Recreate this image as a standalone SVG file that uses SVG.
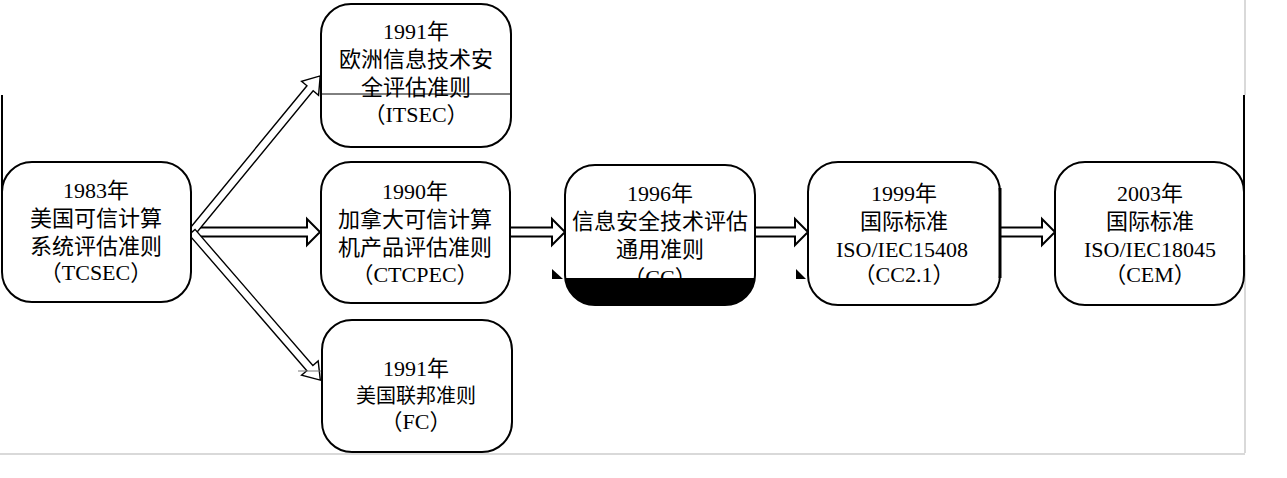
<svg xmlns="http://www.w3.org/2000/svg" width="1287" height="478" viewBox="0 0 1287 478">
<style>
.box{fill:#fff;stroke:#000;stroke-width:2}
.t{font-family:"Liberation Serif","Noto Sans CJK SC",serif;font-size:22px;fill:#000;text-anchor:middle}
.ha{fill:#fff;stroke:#000;stroke-width:2;stroke-linejoin:miter}
.da{fill:#fff;stroke:#000;stroke-width:1.4}
</style>
<defs>
<clipPath id="ccclip"><rect x="565" y="165" width="190" height="140" rx="30"/></clipPath>
</defs>
<rect width="1287" height="478" fill="#fff"/>
<g id="frame">
<line x1="2" y1="95" x2="2" y2="232" stroke="#000" stroke-width="2"/>
<line x1="1245" y1="0" x2="1245" y2="95" stroke="#ccc" stroke-width="1.5"/>
<line x1="1244" y1="95" x2="1244" y2="255" stroke="#000" stroke-width="2"/>
<line x1="1245" y1="255" x2="1245" y2="453" stroke="#ccc" stroke-width="1.5"/>
<line x1="0" y1="454" x2="1245" y2="454" stroke="#ccc" stroke-width="1.5"/>
</g>
<g id="connectors">
<path class="ha" d="M192,227.5 H307 V219 L320,232 L307,245 V236.5 H192"/>
<path class="ha" d="M510,227.5 H552 V219 L565,232 L552,245 V236.5 H510"/>
<path class="ha" d="M755,227.5 H795 V219 L808,232 L795,245 V236.5 H755"/>
<path class="ha" d="M1000,227.5 H1042 V219 L1055,232 L1042,245 V236.5 H1000"/>
<path class="da" transform="translate(192,232) rotate(-50.6)" d="M0,-4 H186 V-11 L202,0 L186,11 V4 H0 Z"/>
<path class="da" transform="translate(192,232) rotate(49.1)" d="M0,-4 H180 V-11 L196,0 L180,11 V4 H0 Z"/>
<line x1="298" y1="371" x2="322" y2="371" stroke="#777" stroke-width="1"/>
<polygon points="552,269 552,279 563,279" fill="#000"/>
<polygon points="796,269 796,279 806,279" fill="#000"/>
</g>
<g id="tcsec">
<rect class="box" x="2" y="162" width="189" height="140" rx="30"/>
<text class="t" x="96" y="198">1983年</text>
<text class="t" x="96" y="226">美国可信计算</text>
<text class="t" x="96" y="254">系统评估准则</text>
<text class="t" x="96" y="280">（TCSEC）</text>
</g>
<g id="itsec">
<rect class="box" x="321" y="4" width="190" height="143" rx="30"/>
<text class="t" x="416" y="39">1991年</text>
<text class="t" x="416" y="67">欧洲信息技术安</text>
<text class="t" x="416" y="95">全评估准则</text>
<text class="t" x="416" y="122">（ITSEC）</text>
<line x1="321" y1="94" x2="511" y2="94" stroke="#000" stroke-width="1"/>
</g>
<g id="ctcpec">
<rect class="box" x="321" y="162" width="189" height="141" rx="30"/>
<text class="t" x="415" y="199">1990年</text>
<text class="t" x="415" y="227">加拿大可信计算</text>
<text class="t" x="415" y="255">机产品评估准则</text>
<text class="t" x="415" y="282">（CTCPEC）</text>
</g>
<g id="cc">
<rect class="box" x="565" y="165" width="190" height="140" rx="30"/>
<text class="t" x="660" y="201">1996年</text>
<text class="t" x="660" y="229">信息安全技术评估</text>
<text class="t" x="660" y="257">通用准则</text>
<text class="t" x="660" y="285">（CC）</text>
<rect x="560" y="278" width="200" height="30" fill="#000" clip-path="url(#ccclip)"/>
</g>
<g id="iso15408">
<rect class="box" x="808" y="162" width="192" height="143" rx="30"/>
<line x1="1000" y1="188" x2="1000" y2="278" stroke="#000" stroke-width="3"/>
<text class="t" x="904" y="201">1999年</text>
<text class="t" x="904" y="229">国际标准</text>
<text class="t" x="902" y="257">ISO/IEC15408</text>
<text class="t" x="904" y="282">（CC2.1）</text>
</g>
<g id="iso18045">
<rect class="box" x="1055" y="162" width="189" height="143" rx="30"/>
<text class="t" x="1150" y="201">2003年</text>
<text class="t" x="1150" y="229">国际标准</text>
<text class="t" x="1150" y="257">ISO/IEC18045</text>
<text class="t" x="1150" y="282">（CEM）</text>
</g>
<g id="fc">
<rect class="box" x="322" y="320" width="190" height="132" rx="30"/>
<text class="t" x="416" y="376">1991年</text>
<text class="t" x="416" y="403" style="font-size:20px">美国联邦准则</text>
<text class="t" x="416" y="429">（FC）</text>
</g>
</svg>
